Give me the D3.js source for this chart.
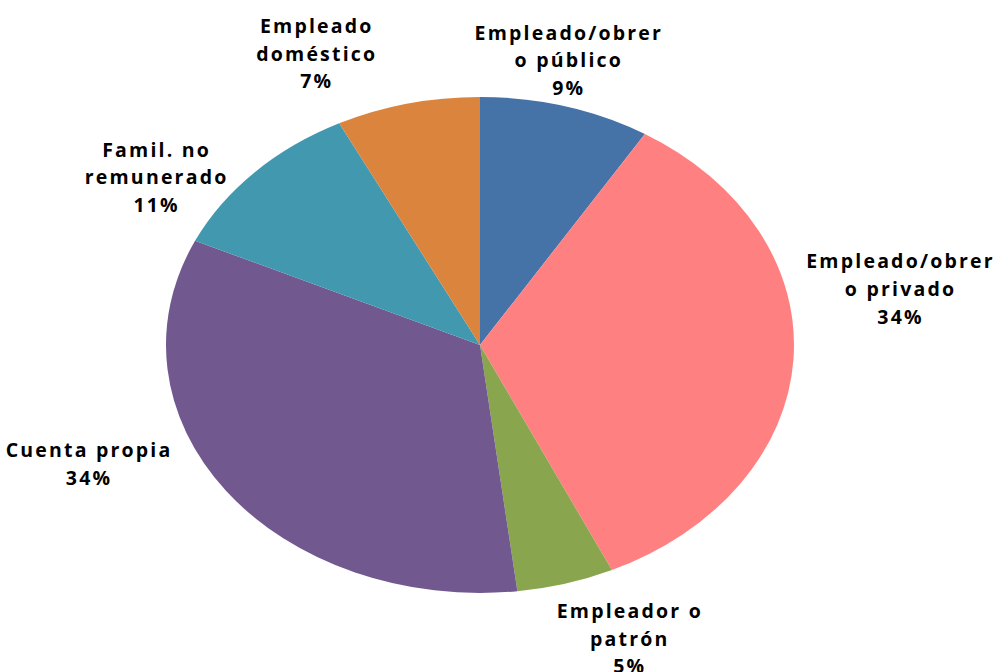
<!DOCTYPE html>
<html>
<head>
<meta charset="utf-8">
<script src="https://cdn.jsdelivr.net/npm/d3@7"></script>
<style>
  body { margin: 0; background: #fff; }
  .lbl { font-family: "Open Sans", Lato, sans-serif; font-weight: bold; font-size: 19.5px; letter-spacing: 2.2px; fill: #000; }
</style>
</head>
<body>
<div id="chart"></div>
<script>
// categories, clockwise from 12 o'clock
const categories = [
    ["Empleado/obrer", "o público"],
    ["Empleado/obrer", "o privado"],
    ["Empleador o", "patrón"],
    ["Cuenta propia"],
    ["Famil. no", "remunerado"],
    ["Empleado", "doméstico"]
];
// share of each category (%)
const shares = [8.8, 34.3, 5.0, 33.8, 10.7, 7.4];
const colors = ["#4572A7", "#FF8080", "#89A54E", "#71588F", "#4198AF", "#DB843D"];

// where each label block sits relative to the slice edge
const labelNudge = [[2, -46], [106, -71], [63, 55], [-138, -27], [-99, 5], [-92, -50]];

const w = 996, h = 672;
const cx = 480, cy = 345;
const rx = 314, ry = 248;
const lineH = 27.8;

const svg = d3.select("#chart")
    .append("svg")
    .attr("width", w)
    .attr("height", h);

const pie = d3.pie().sort(null).value(d => d);
const arcs = pie(shares);

// draw circle of radius ry and stretch it into the ellipse
const arc = d3.arc().innerRadius(0).outerRadius(ry);

const g = svg.append("g")
    .attr("transform", `translate(${cx},${cy}) scale(${rx / ry},1)`);

g.selectAll("path")
    .data(arcs)
    .enter()
    .append("path")
    .attr("d", arc)
    .attr("fill", (d, i) => colors[i]);

const pct = d3.format(".0f");

const labels = svg.selectAll("g.label")
    .data(arcs)
    .enter()
    .append("g")
    .attr("class", "label")
    .attr("transform", (d, i) => {
        const a = (d.startAngle + d.endAngle) / 2;
        const x = cx + rx * Math.sin(a) + labelNudge[i][0];
        const y = cy - ry * Math.cos(a) + labelNudge[i][1];
        return `translate(${x},${y})`;
    });

labels.each(function (d, i) {
    const lines = categories[i].concat([pct(d.value) + "%"]);
    const top = -(lines.length - 1) * lineH / 2;
    d3.select(this).selectAll("text")
        .data(lines)
        .enter()
        .append("text")
        .attr("class", "lbl")
        .attr("text-anchor", "middle")
        .attr("x", 1.1)
        .attr("y", (t, k) => top + k * lineH)
        .attr("dy", "0.36em")
        .text(t => t);
});
</script>
</body>
</html>
